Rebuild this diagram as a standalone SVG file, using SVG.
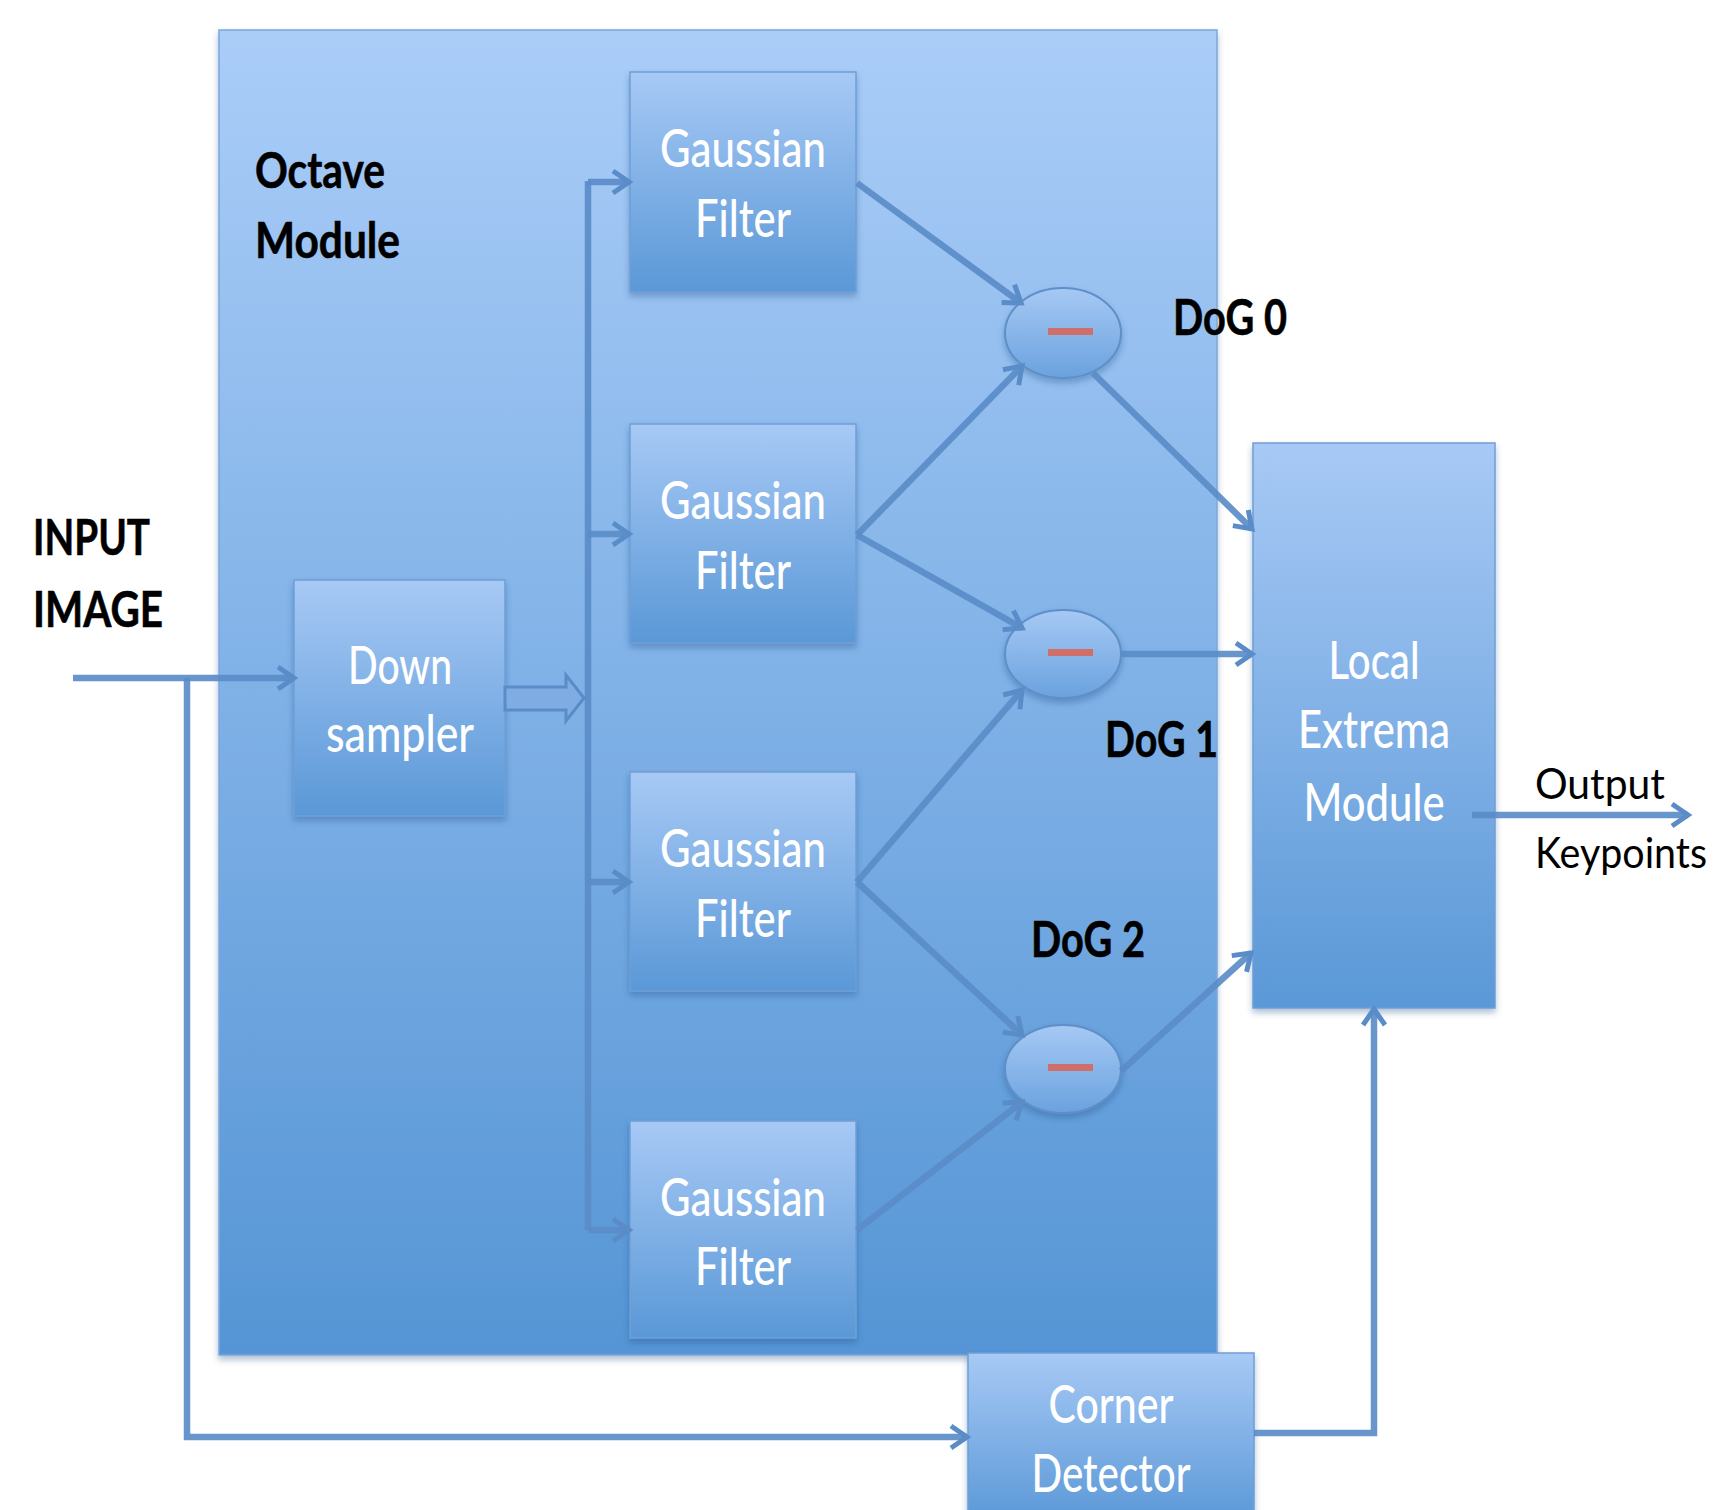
<svg xmlns="http://www.w3.org/2000/svg" width="1721" height="1510" viewBox="0 0 1721 1510">
  <style>
    .wt { font-family: Lato, "Open Sans", "Liberation Sans", sans-serif; font-size: 52px; font-weight: 500; fill: #ffffff; text-anchor: middle; }
    .bl { font-family: Lato, "Open Sans", "Liberation Sans", sans-serif; font-size: 50px; font-weight: bold; fill: #000000; stroke: #000000; stroke-width: 0.6; }
    .rg { font-family: Lato, "Open Sans", "Liberation Sans", sans-serif; font-size: 43px; fill: #000000; }
    .box { fill: url(#boxGrad); stroke: #6f9fd6; stroke-width: 1.5; filter: url(#shadow); }
    .ell { fill: url(#ellGrad); stroke: #5e8fc9; stroke-width: 2; filter: url(#shadow); }
    .minus { fill: #d06f69; }
    .wire { fill: none; stroke: #5a8cc8; stroke-width: 6.5; stroke-opacity: 0.92; }
    .arr { marker-end: url(#ah); }
  </style>
  <defs>
    <linearGradient id="octGrad" x1="0" y1="0" x2="0" y2="1">
      <stop offset="0" stop-color="#aacdf8"/>
      <stop offset="1" stop-color="#5595d5"/>
    </linearGradient>
    <linearGradient id="boxGrad" x1="0" y1="0" x2="0" y2="1">
      <stop offset="0" stop-color="#a7c9f5"/>
      <stop offset="1" stop-color="#5a98d7"/>
    </linearGradient>
    <linearGradient id="ellGrad" x1="0" y1="0" x2="0" y2="1">
      <stop offset="0" stop-color="#a6c9f4"/>
      <stop offset="1" stop-color="#6aa2de"/>
    </linearGradient>
    <filter id="shadow" x="-10%" y="-10%" width="120%" height="125%">
      <feDropShadow dx="0" dy="4" stdDeviation="3" flood-color="#1f4c82" flood-opacity="0.35"/>
    </filter>
    <marker id="ah" viewBox="0 0 28 28" refX="22" refY="14" markerWidth="28" markerHeight="28" markerUnits="userSpaceOnUse" orient="auto">
      <path d="M6,3 L22,14 L6,25" fill="none" stroke="#5a8cc8" stroke-width="5" stroke-linejoin="miter"/>
    </marker>
  </defs>

  <rect width="1721" height="1510" fill="#ffffff"/>

  <!-- octave module container -->
  <g id="octave">
    <rect x="219" y="30" width="998" height="1325" fill="url(#octGrad)" stroke="#7ba7dc" stroke-width="1.5" filter="url(#shadow)"/>
    <text class="bl" x="255" y="188" textLength="130" lengthAdjust="spacingAndGlyphs">Octave</text>
    <text class="bl" x="255" y="258" textLength="145" lengthAdjust="spacingAndGlyphs">Module</text>
  </g>

  <!-- free labels -->
  <g id="labels">
    <text class="bl" x="33" y="555" textLength="117" lengthAdjust="spacingAndGlyphs">INPUT</text>
    <text class="bl" x="33" y="627" textLength="130" lengthAdjust="spacingAndGlyphs">IMAGE</text>
    <text class="bl" x="1173" y="335" textLength="114" lengthAdjust="spacingAndGlyphs">DoG 0</text>
    <text class="bl" x="1105" y="757" textLength="113" lengthAdjust="spacingAndGlyphs">DoG 1</text>
    <text class="bl" x="1031" y="957" textLength="114" lengthAdjust="spacingAndGlyphs">DoG 2</text>
    <text class="rg" x="1535" y="799" textLength="130" lengthAdjust="spacingAndGlyphs">Output</text>
    <text class="rg" x="1535" y="868" textLength="172" lengthAdjust="spacingAndGlyphs">Keypoints</text>
  </g>

  <!-- processing blocks -->
  <g id="downsampler">
    <rect class="box" x="294" y="580" width="211" height="236"/>
    <text class="wt" x="400" y="684" textLength="104" lengthAdjust="spacingAndGlyphs">Down</text>
    <text class="wt" x="400" y="752" textLength="148" lengthAdjust="spacingAndGlyphs">sampler</text>
  </g>
  <g id="gauss0">
    <rect class="box" x="630" y="72" width="226" height="220"/>
    <text class="wt" x="743" y="167" textLength="166" lengthAdjust="spacingAndGlyphs">Gaussian</text>
    <text class="wt" x="743" y="237" textLength="96" lengthAdjust="spacingAndGlyphs">Filter</text>
  </g>
  <g id="gauss1">
    <rect class="box" x="630" y="424" width="226" height="219"/>
    <text class="wt" x="743" y="519" textLength="166" lengthAdjust="spacingAndGlyphs">Gaussian</text>
    <text class="wt" x="743" y="589" textLength="96" lengthAdjust="spacingAndGlyphs">Filter</text>
  </g>
  <g id="gauss2">
    <rect class="box" x="630" y="772" width="226" height="219"/>
    <text class="wt" x="743" y="867" textLength="166" lengthAdjust="spacingAndGlyphs">Gaussian</text>
    <text class="wt" x="743" y="937" textLength="96" lengthAdjust="spacingAndGlyphs">Filter</text>
  </g>
  <g id="gauss3">
    <rect class="box" x="630" y="1121" width="226" height="217"/>
    <text class="wt" x="743" y="1216" textLength="166" lengthAdjust="spacingAndGlyphs">Gaussian</text>
    <text class="wt" x="743" y="1285" textLength="96" lengthAdjust="spacingAndGlyphs">Filter</text>
  </g>

  <!-- subtractors -->
  <g id="sub0">
    <ellipse class="ell" cx="1063" cy="333" rx="58" ry="45"/>
    <rect class="minus" x="1048" y="328" width="45" height="7"/>
  </g>
  <g id="sub1">
    <ellipse class="ell" cx="1063" cy="654" rx="58" ry="44"/>
    <rect class="minus" x="1048" y="649" width="45" height="7"/>
  </g>
  <g id="sub2">
    <ellipse class="ell" cx="1063" cy="1069" rx="58" ry="44"/>
    <rect class="minus" x="1048" y="1064" width="45" height="7"/>
  </g>

  <g id="extrema">
    <rect class="box" x="1253" y="443" width="242" height="565"/>
    <text class="wt" x="1374" y="679" textLength="91" lengthAdjust="spacingAndGlyphs">Local</text>
    <text class="wt" x="1374" y="748" textLength="152" lengthAdjust="spacingAndGlyphs">Extrema</text>
    <text class="wt" x="1374" y="821" textLength="141" lengthAdjust="spacingAndGlyphs">Module</text>
  </g>

  <g id="corner">
    <rect class="box" x="968" y="1353" width="286" height="170"/>
    <text class="wt" x="1111" y="1423" textLength="125" lengthAdjust="spacingAndGlyphs">Corner</text>
    <text class="wt" x="1111" y="1492" textLength="159" lengthAdjust="spacingAndGlyphs">Detector</text>
  </g>

  <!-- connectors, drawn above the blocks -->
  <g id="connectors">
    <path class="wire arr" d="M73,678 H294"/>
    <path class="wire arr" d="M187,678 V1437 H967"/>
    <polygon points="505,687 566,687 566,675 584,698 566,721 566,710 505,710" fill="#7eace3" stroke="#5a8cc8" stroke-width="3"/>
    <path class="wire" d="M588,181 V1230"/>
    <path class="wire arr" d="M588,182 H629"/>
    <path class="wire arr" d="M588,534 H629"/>
    <path class="wire arr" d="M588,882 H629"/>
    <path class="wire arr" d="M588,1230 H629"/>
    <path class="wire arr" d="M857,183 L1021,303"/>
    <path class="wire arr" d="M857,535 L1022,366"/>
    <path class="wire arr" d="M857,535 L1022,628"/>
    <path class="wire arr" d="M857,882 L1022,690"/>
    <path class="wire arr" d="M857,882 L1022,1035"/>
    <path class="wire arr" d="M857,1230 L1022,1102"/>
    <path class="wire arr" d="M1093,373 L1252,529"/>
    <path class="wire arr" d="M1121,654 H1252"/>
    <path class="wire arr" d="M1121,1071 L1251,953"/>
    <path class="wire arr" d="M1254,1433 H1374 V1009"/>
    <path class="wire arr" d="M1472,815 H1688"/>
  </g>
</svg>
